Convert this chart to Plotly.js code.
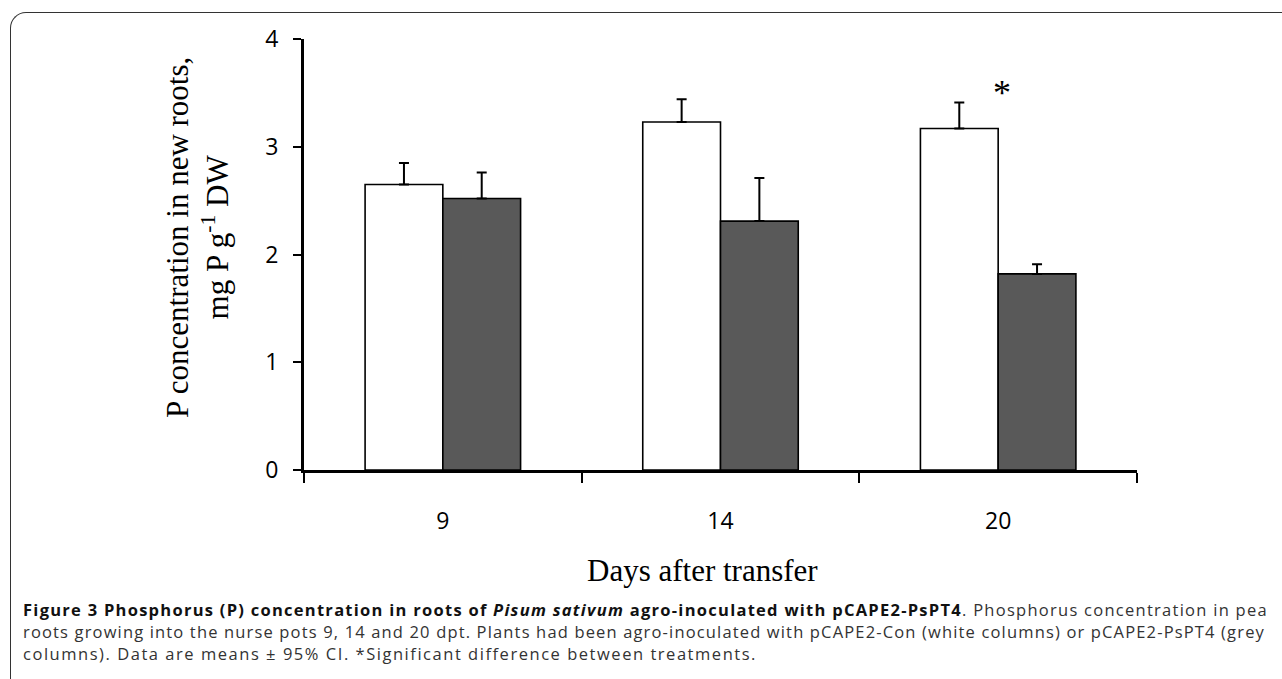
<!DOCTYPE html>
<html>
<head>
<meta charset="utf-8">
<script src="https://cdn.plot.ly/plotly-3.0.1.min.js"></script>
<style>
  html, body { margin: 0; padding: 0; background: #fff; }
  #wrap { position: relative; width: 1282px; height: 679px; overflow: hidden; }
  #frame { position: absolute; left: 10px; top: 12px; width: 1300px; height: 700px;
           border-top: 1.5px solid #333; border-left: 1.5px solid #333;
           border-top-left-radius: 16px; box-sizing: border-box; pointer-events: none; }
  #chart { position: absolute; left: 0; top: 0; width: 1282px; height: 679px; }
  .cap { position: absolute; left: 23px; font-family: "Open Sans", sans-serif; font-size: 16.5px;
         line-height: 22px; color: #333; white-space: nowrap; }
  .cap b { color: #111; }
</style>
</head>
<body>
<div id="wrap">
  <div id="chart"></div>
  <div id="frame"></div>
  <div class="cap" id="cap1" data-w="1245" style="top:599px"><b>Figure 3 Phosphorus (P) concentration in roots of <i>Pisum sativum</i> agro-inoculated with pCAPE2-PsPT4</b>. Phosphorus concentration in pea</div>
  <div class="cap" id="cap2" data-w="1242" style="top:621px">roots growing into the nurse pots 9, 14 and 20 dpt. Plants had been agro-inoculated with pCAPE2-Con (white columns) or pCAPE2-PsPT4 (grey</div>
  <div class="cap" id="cap3" data-w="734" style="top:643px">columns). Data are means ± 95% CI. *Significant difference between treatments.</div>
</div>
<script>
// ---- data ----
const days = ["9", "14", "20"];
const conValues = [2.65, 3.23, 3.17];      // pCAPE2-Con (white columns)
const conCI = [0.20, 0.21, 0.24];          // upper 95% CI
const pt4Values = [2.52, 2.31, 1.82];      // pCAPE2-PsPT4 (grey columns)
const pt4CI = [0.24, 0.40, 0.09];
const yTicks = [0, 1, 2, 3, 4];
const sigCategory = "20";
const sigY = 3.5;

// ---- layout helpers (pixel -> paper) ----
const W = 1282, H = 679;
const M = { l: 304, r: 145, t: 39, b: 209 };
const PW = W - M.l - M.r, PH = H - M.t - M.b;
const px = x => (x - M.l) / PW;
const py = y => (H - M.b - y) / PH;

const zeros = days.map(() => 0);

const traces = [
  {
    type: "bar", name: "pCAPE2-Con", x: days, y: conValues,
    marker: { color: "#ffffff", line: { color: "#000000", width: 1.6 } },
    error_y: { type: "data", symmetric: false, array: conCI, arrayminus: zeros,
               color: "#000000", thickness: 2, width: 5 }
  },
  {
    type: "bar", name: "pCAPE2-PsPT4", x: days, y: pt4Values,
    marker: { color: "#595959", line: { color: "#000000", width: 1.6 } },
    error_y: { type: "data", symmetric: false, array: pt4CI, arrayminus: zeros,
               color: "#000000", thickness: 2, width: 5 }
  }
];

const serif = "Liberation Serif, Times New Roman, serif";

const layout = {
  width: W, height: H,
  margin: M,
  paper_bgcolor: "rgba(0,0,0,0)", plot_bgcolor: "#ffffff",
  showlegend: false,
  barmode: "group", bargap: 0.44, bargroupgap: 0,
  xaxis: {
    type: "category", categoryorder: "array", categoryarray: days,
    range: [-0.5, days.length - 0.5], autorange: false,
    showline: true, linecolor: "#000", linewidth: 3,
    ticks: "outside", tickson: "boundaries", ticklen: 10, tickwidth: 2, tickcolor: "#000",
    ticklabelstandoff: 28,
    showgrid: false, zeroline: false,
    tickfont: { family: "Open Sans, sans-serif", size: 23, color: "#000" }
  },
  yaxis: {
    range: [0, 4], autorange: false, tickvals: yTicks, ticktext: yTicks.map(String),
    showline: true, linecolor: "#000", linewidth: 3,
    ticks: "outside", ticklen: 8, tickwidth: 2, tickcolor: "#000",
    ticklabelstandoff: 10,
    showgrid: false, zeroline: false,
    tickfont: { family: "Open Sans, sans-serif", size: 23, color: "#000" }
  },
  annotations: [
    // y-axis title
    { xref: "paper", yref: "paper", x: px(197), y: py(238), xanchor: "center", yanchor: "middle",
      textangle: -90, showarrow: false, align: "center",
      text: "P concentration in new roots,<br>mg P g<sup>-1</sup> DW",
      font: { family: serif, size: 31, color: "#000" } },
    // x-axis title
    { xref: "paper", yref: "paper", x: px(702), y: py(570), xanchor: "center", yanchor: "middle",
      showarrow: false, text: "Days after transfer",
      font: { family: serif, size: 31, color: "#000" } },
    // significance marker
    { x: days.indexOf(sigCategory), y: sigY, xref: "x", yref: "y", xshift: 4, text: "*", showarrow: false,
      font: { family: serif, size: 36, color: "#000" } }
  ]
};

Plotly.newPlot("chart", traces, layout, { displayModeBar: false, staticPlot: true });

// fit each caption line to the reference line width with letter spacing
document.querySelectorAll(".cap").forEach(el => {
  const target = parseFloat(el.dataset.w);
  const natural = el.getBoundingClientRect().width;
  const n = el.textContent.length;
  el.style.letterSpacing = ((target - natural) / n).toFixed(3) + "px";
});
</script>
</body>
</html>
